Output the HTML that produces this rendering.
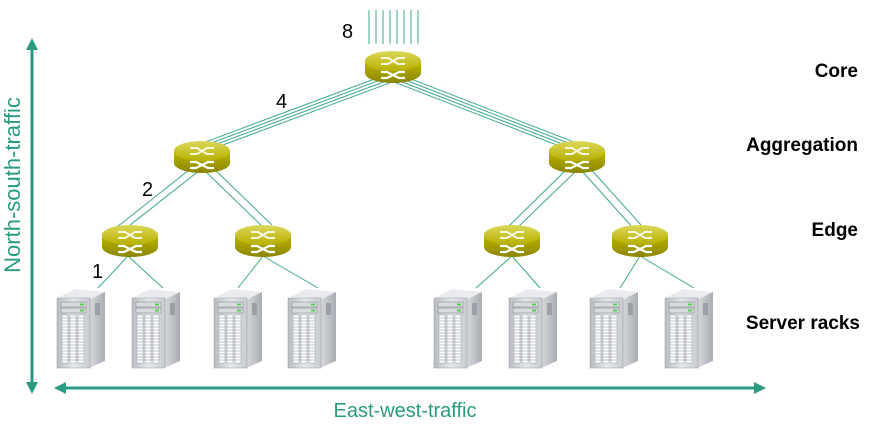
<!DOCTYPE html>
<html><head><style>
html,body{margin:0;padding:0;background:#fff;}
svg{display:block;font-family:"Liberation Sans",Arial,sans-serif;}
</style></head><body>
<svg width="872" height="431" viewBox="0 0 872 431" xmlns="http://www.w3.org/2000/svg">
<defs>
<linearGradient id="sb" x1="0" x2="0" y1="0" y2="1"><stop offset="0" stop-color="#bdb600"/><stop offset="1" stop-color="#8a8500"/></linearGradient>
<linearGradient id="st" x1="0" x2="0" y1="0" y2="1"><stop offset="0" stop-color="#dcd75a"/><stop offset="1" stop-color="#b6b000"/></linearGradient>
<linearGradient id="fr" x1="0" x2="1"><stop offset="0" stop-color="#b8bcc2"/><stop offset="0.5" stop-color="#e6e8eb"/><stop offset="1" stop-color="#c8cbd0"/></linearGradient>
<linearGradient id="sd" x1="0" x2="1"><stop offset="0" stop-color="#d8dadd"/><stop offset="1" stop-color="#a9adb3"/></linearGradient>
<symbol id="sw" viewBox="0 0 58 34" width="58" height="34">
<path d="M1,11 L1,23 A28,10 0 0 0 57,23 L57,11 Z" fill="url(#sb)"/>
<ellipse cx="29" cy="11" rx="28" ry="10" fill="url(#st)"/>
<path d="M17,8 L24,8 L34,14 L41,14 M17,14 L24,14 L34,8 L41,8" stroke="#fff" stroke-width="2" fill="none" opacity="0.85"/>
<path d="M17,22 L23,22 L35,28 L41,28 M17,28 L23,28 L35,22 L41,22" stroke="#fff" stroke-width="2.2" fill="none"/>
</symbol>
<symbol id="sv" viewBox="0 0 50 80" width="50" height="80">
<path d="M4,8 L20,0 L50,3 L36,11 Z" fill="#e9ebee"/>
<path d="M34,11 L50,3 L50,72 L34,79 Z" fill="url(#sd)"/>
<rect x="40" y="14" width="5" height="12" fill="#9aa0a6"/>
<rect x="2" y="9" width="33" height="70" fill="url(#fr)" stroke="#999" stroke-width="0.5"/>
<rect x="6" y="13" width="25" height="5" fill="#d8dbe0" stroke="#8a8f96" stroke-width="0.6"/>
<rect x="6" y="19" width="25" height="5" fill="#d8dbe0" stroke="#8a8f96" stroke-width="0.6"/>
<rect x="25" y="14.5" width="4" height="2" fill="#5c5"/>
<rect x="25" y="20.5" width="4" height="2" fill="#5c5"/>
<g fill="#fff" stroke="#9aa0a6" stroke-width="0.5">
<rect x="7" y="26" width="6" height="48"/><rect x="15" y="26" width="6" height="48"/><rect x="23" y="26" width="6" height="48"/>
</g>
<g stroke="#aab0b6" stroke-width="0.8">
<path d="M7,29H29M7,32H29M7,35H29M7,38H29M7,41H29M7,44H29M7,47H29M7,50H29M7,53H29M7,56H29M7,59H29M7,62H29M7,65H29M7,68H29M7,71H29"/>
</g>
</symbol>
<path id="lc" d="M390,78L202,148"/>
<path id="rc" d="M396,78L577,148"/>
</defs>
<g stroke="#3ea88f" stroke-width="1" fill="none">
<path d="M369,10V44M376,10V44M383,10V44M390,10V44M397,10V44M404,10V44M411,10V44M418,10V44"/>
<use href="#lc" transform="translate(-1.6,-4.2)"/>
<use href="#lc" transform="translate(-0.5,-1.4)"/>
<use href="#lc" transform="translate(0.5,1.4)"/>
<use href="#lc" transform="translate(1.6,4.2)"/>
<use href="#rc" transform="translate(1.6,-4.2)"/>
<use href="#rc" transform="translate(0.5,-1.4)"/>
<use href="#rc" transform="translate(-0.5,1.4)"/>
<use href="#rc" transform="translate(-1.6,4.2)"/>
<path d="M194,166L117,227M200,170L125,229"/>
<path d="M204,170L265,229M211,166L272,225"/>
<path d="M570,166L508,227M577,170L516,229"/>
<path d="M581,170L634,229M588,166L641,225"/>
<path d="M128,256L98,288M128,256L163,288"/>
<path d="M263,256L238,288M263,256L318,288"/>
<path d="M512,256L476,288M512,256L540,288"/>
<path d="M640,256L620,288M640,256L694,288"/>
</g>
<use href="#sw" x="364" y="50"/>
<use href="#sw" x="173" y="140"/>
<use href="#sw" x="548" y="140"/>
<use href="#sw" x="101" y="224"/>
<use href="#sw" x="234" y="224"/>
<use href="#sw" x="483" y="224"/>
<use href="#sw" x="611" y="224"/>
<use href="#sv" x="55" y="289"/>
<use href="#sv" x="130" y="289"/>
<use href="#sv" x="212" y="289"/>
<use href="#sv" x="286" y="289"/>
<use href="#sv" x="432" y="289"/>
<use href="#sv" x="507" y="289"/>
<use href="#sv" x="588" y="289"/>
<use href="#sv" x="663" y="289"/>
<g font-size="20" fill="#000">
<text x="342" y="38">8</text>
<text x="276" y="108">4</text>
<text x="142" y="196">2</text>
<text x="92" y="278">1</text>
</g>
<g font-size="19" font-weight="bold" fill="#000" text-anchor="end">
<text x="858" y="77">Core</text>
<text x="858" y="151">Aggregation</text>
<text x="858" y="236">Edge</text>
<text x="860" y="329">Server racks</text>
</g>
<g stroke="#2a9a80" stroke-width="3" fill="#2a9a80">
<line x1="32" y1="48" x2="32" y2="384"/>
<path d="M32,38 L26,50 L38,50 Z" stroke="none"/>
<path d="M32,394 L26,382 L38,382 Z" stroke="none"/>
<line x1="64" y1="388" x2="756" y2="388"/>
<path d="M54,388 L66,382 L66,394 Z" stroke="none"/>
<path d="M766,388 L754,382 L754,394 Z" stroke="none"/>
</g>
<text x="405" y="417" font-size="20" fill="#2a9a80" text-anchor="middle">East-west-traffic</text>
<text transform="translate(20,185) rotate(-90)" font-size="22" fill="#2a9a80" text-anchor="middle">North-south-traffic</text>
</svg>
</body></html>
